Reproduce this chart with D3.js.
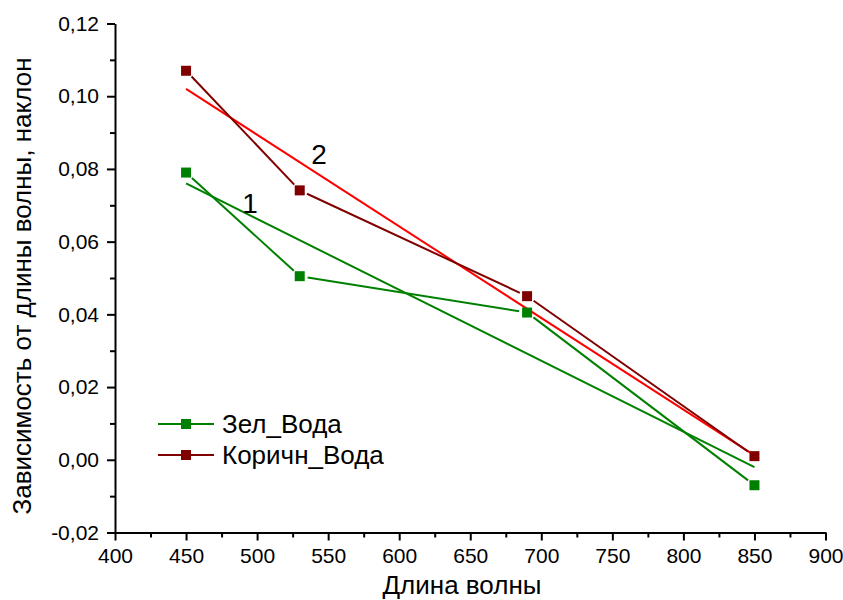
<!DOCTYPE html>
<html>
<head>
<meta charset="utf-8">
<script src="https://cdn.jsdelivr.net/npm/d3@7"></script>
<style>
  body { margin: 0; background: #fff; }
  svg text { font-family: Arial, "Liberation Sans", sans-serif; fill: #000; }
</style>
</head>
<body>
<svg id="chart" width="843" height="600"></svg>
<script>
// wavelengths, nm
const wavelengths = [450, 530, 690, 850];
// slope values
const greenValues = [0.079, 0.0505, 0.0405, -0.007];
const brownValues = [0.107, 0.0741, 0.045, 0.001];
// linear fit end points (1 = green, 2 = brown)
const greenFit = [[450, 0.0760], [850, -0.0020]];
const brownFit = [[450, 0.1020], [850, 0.0012]];

const xTicks = [400, 450, 500, 550, 600, 650, 700, 750, 800, 850, 900];
const yTicks = [-0.02, 0, 0.02, 0.04, 0.06, 0.08, 0.10, 0.12];
const seriesNames = ["Зел_Вода", "Коричн_Вода"];

const GREEN = "#008000";
const BROWN = "#800000";
const RED = "#ff0000";

const svg = d3.select("#chart");
const x = d3.scaleLinear().domain([400, 900]).range([115, 825.5]);
const y = d3.scaleLinear().domain([-0.02, 0.12]).range([532.5, 23.5]);

// comma decimals, plain hyphen for minus
const fmtY = v => d3.format(".2f")(v).replace(".", ",").replace("\u2212", "-").replace("-0,00", "0,00");

// x axis
const xAxis = svg.append("g").attr("transform", `translate(0, ${y(-0.02)})`);
xAxis.append("g")
  .call(d3.axisBottom(x).tickValues(d3.range(425, 900, 50)).tickSize(5).tickFormat(""))
  .call(g => g.select(".domain").remove());
xAxis.append("g")
  .call(d3.axisBottom(x).tickValues(xTicks).tickSize(8).tickSizeOuter(0).tickPadding(8))
  .call(g => g.selectAll("text").attr("font-size", 21).attr("font-family", null));
xAxis.selectAll("line, path").attr("stroke", "#000").attr("stroke-width", 2);

// y axis
const yAxis = svg.append("g").attr("transform", `translate(${x(400)}, 0)`);
yAxis.append("g")
  .call(d3.axisLeft(y).tickValues(d3.range(-0.01, 0.12, 0.02)).tickSize(5).tickFormat(""))
  .call(g => g.select(".domain").remove());
yAxis.append("g")
  .call(d3.axisLeft(y).tickValues(yTicks).tickSize(8).tickSizeOuter(0).tickPadding(8).tickFormat(fmtY))
  .call(g => g.selectAll("text").attr("font-size", 21).attr("font-family", null));
yAxis.selectAll("line, path").attr("stroke", "#000").attr("stroke-width", 2);

// axis titles
svg.append("text")
  .attr("x", 462).attr("y", 594)
  .attr("text-anchor", "middle")
  .attr("font-size", 26)
  .text("Длина волны");
svg.append("text")
  .attr("transform", "translate(31, 286) rotate(-90)")
  .attr("text-anchor", "middle")
  .attr("font-size", 26)
  .text("Зависимость от длины волны, наклон");

// fit lines
const line = d3.line().x(d => x(d[0])).y(d => y(d[1]));
[[greenFit, GREEN], [brownFit, RED]].forEach(([pts, color]) => {
  svg.append("path")
    .attr("d", line(pts))
    .attr("fill", "none")
    .attr("stroke", color)
    .attr("stroke-width", 2);
});

// data lines, with a small gap round each symbol
const GAP = 8;
function drawSeries(values, color) {
  const pts = wavelengths.map((w, i) => [x(w), y(values[i])]);
  const g = svg.append("g");
  d3.pairs(pts).forEach(([a, b]) => {
    const dx = b[0] - a[0], dy = b[1] - a[1];
    const len = Math.hypot(dx, dy);
    const ux = dx / len, uy = dy / len;
    g.append("line")
      .attr("x1", a[0] + ux * GAP).attr("y1", a[1] + uy * GAP)
      .attr("x2", b[0] - ux * GAP).attr("y2", b[1] - uy * GAP)
      .attr("stroke", color)
      .attr("stroke-width", 2);
  });
  g.selectAll("rect")
    .data(pts)
    .enter()
    .append("rect")
    .attr("x", d => d[0] - 5).attr("y", d => d[1] - 5)
    .attr("width", 10).attr("height", 10)
    .attr("fill", color);
}
drawSeries(greenValues, GREEN);
drawSeries(brownValues, BROWN);

// fit labels
svg.append("text").attr("x", 250).attr("y", 213)
  .attr("text-anchor", "middle").attr("font-size", 28).text("1");
svg.append("text").attr("x", 319).attr("y", 164)
  .attr("text-anchor", "middle").attr("font-size", 28).text("2");

// legend
const legend = svg.append("g");
[[GREEN, 424], [BROWN, 455]].forEach(([color, ly], i) => {
  legend.append("line")
    .attr("x1", 158).attr("x2", 214).attr("y1", ly).attr("y2", ly)
    .attr("stroke", color).attr("stroke-width", 2);
  legend.append("rect")
    .attr("x", 181).attr("y", ly - 5).attr("width", 10).attr("height", 10)
    .attr("fill", color);
  legend.append("text")
    .attr("x", 222).attr("y", ly + 9)
    .attr("font-size", 26)
    .text(seriesNames[i]);
});
</script>
</body>
</html>
